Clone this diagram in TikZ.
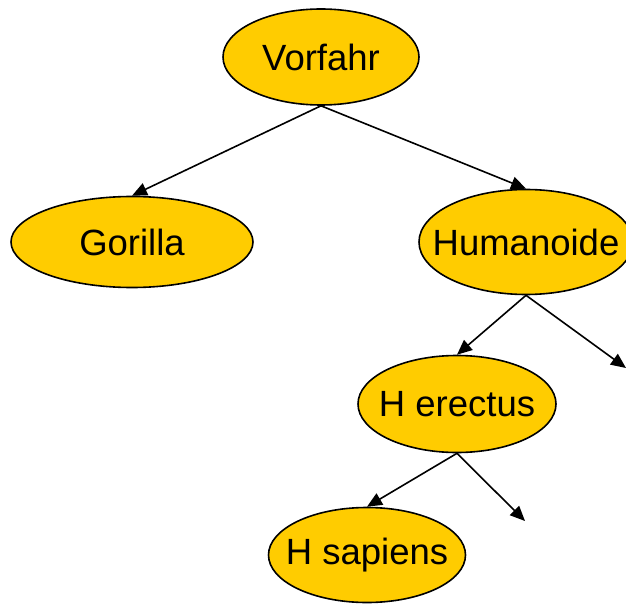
\documentclass[tikz,border=0pt]{standalone}
\usepackage{fontspec}
\setmainfont{Liberation Sans}
\usetikzlibrary{shapes.geometric,arrows.meta}
\definecolor{nodefill}{HTML}{FFCC00}
\newcommand{\taxtext}[1]{\makebox[0pt]{#1}}
\begin{document}
\begin{tikzpicture}[x=1pt,y=-1pt,
  taxon/.style={ellipse,draw=black,line width=1.6pt,fill=nodefill,inner sep=0pt,
    font=\fontsize{36.5}{40}\selectfont},
  link/.style={line width=1.6pt,-{Triangle[length=15pt,width=13pt]}}]
\useasboundingbox (0,0) rectangle (626,604);
\node[taxon,minimum width=196pt,minimum height=96pt] (vorfahr) at (321,57) {\taxtext{Vorfahr}};
\node[taxon,minimum width=242pt,minimum height=91pt] (gorilla) at (132,242) {\taxtext{Gorilla}};
\node[taxon,minimum width=214pt,minimum height=105pt] (humanoide) at (526,242) {\taxtext{Humanoide}};
\node[taxon,minimum width=198pt,minimum height=97pt] (erectus) at (457,404) {\taxtext{H erectus}};
\node[taxon,minimum width=197pt,minimum height=95pt] (sapiens) at (367,555) {\taxtext{H sapiens}};
\coordinate (free1) at (626,368);
\coordinate (free2) at (525,521);
\draw[link] (vorfahr.south) -- (gorilla.north);
\draw[link] (vorfahr.south) -- (humanoide.north);
\draw[link] (humanoide.south) -- (erectus.north);
\draw[link] (humanoide.south) -- (free1);
\draw[link] (erectus.south) -- (sapiens.north);
\draw[link] (erectus.south) -- (free2);
\end{tikzpicture}
\end{document}
